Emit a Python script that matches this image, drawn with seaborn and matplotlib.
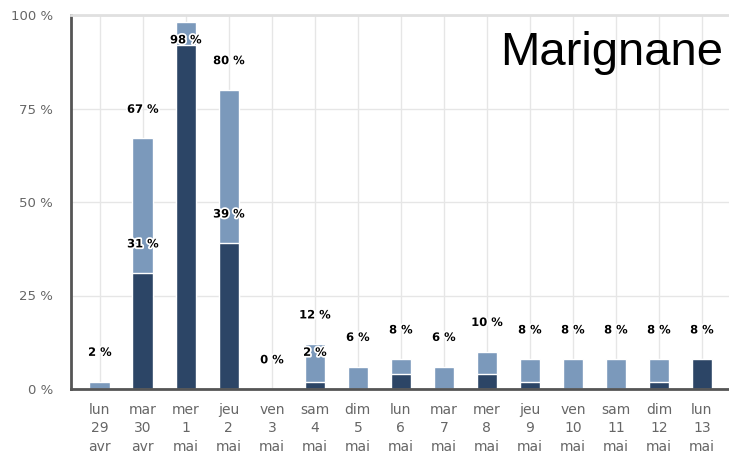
import pandas as pd
import seaborn as sns
import matplotlib.pyplot as plt
import matplotlib.patheffects as pe

# Données du graphique (en %)
jours = ['lun\n29\navr', 'mar\n30\navr', 'mer\n1\nmai', 'jeu\n2\nmai', 'ven\n3\nmai',
         'sam\n4\nmai', 'dim\n5\nmai', 'lun\n6\nmai', 'mar\n7\nmai', 'mer\n8\nmai',
         'jeu\n9\nmai', 'ven\n10\nmai', 'sam\n11\nmai', 'dim\n12\nmai', 'lun\n13\nmai']
total = [2, 67, 98, 80, 0, 12, 6, 8, 6, 10, 8, 8, 8, 8, 8]
fonce = [0, 31, 92, 39, 0, 2, 0, 4, 0, 4, 2, 0, 0, 2, 8]
# étiquettes affichées sur la partie foncée
etiquettes_fonce = ['', '31 %', '', '39 %', '', '2 %', '', '', '', '', '', '', '', '', '']
y_ticks = [0, 25, 50, 75, 100]

df = pd.DataFrame({'jour': jours, 'total': total, 'fonce': fonce})

sns.set_style('white')
plt.rcParams['font.family'] = ['DejaVu Sans']

fig = plt.figure(figsize=(7.29, 4.54), dpi=100)
ax = fig.add_axes([71 / 729, 65 / 454, 658 / 729, 374 / 454])

sns.barplot(data=df, x='jour', y='total', color='#7b99bb', saturation=1,
            width=0.48, edgecolor='white', linewidth=1, ax=ax)
sns.barplot(data=df, x='jour', y='fonce', color='#2c4566', saturation=1,
            width=0.48, edgecolor='white', linewidth=1, ax=ax)

ax.set_xlim(-0.67, 14.63)
ax.set_ylim(0, 100)
ax.set_yticks(y_ticks)
ax.set_yticklabels([f'{v} %' for v in y_ticks])
ax.set_xlabel('')
ax.set_ylabel('')

ax.grid(True, color='#e6e6e6', linewidth=1)
ax.set_axisbelow(True)

ax.tick_params(axis='x', length=7, width=1, color='#c0d0e0', pad=3,
               labelsize=10, labelcolor='#666666')
ax.tick_params(axis='y', length=0, pad=13, labelsize=9.5, labelcolor='#666666')
for lab in ax.get_xticklabels():
    lab.set_linespacing(1.4)

for side in ['left', 'bottom']:
    ax.spines[side].set_color('#555555')
    ax.spines[side].set_linewidth(2)
ax.spines['top'].set_color('#e0e0e0')
ax.spines['top'].set_linewidth(2)
ax.spines['right'].set_visible(False)

halo = [pe.withStroke(linewidth=2.5, foreground='white')]

# étiquettes des totaux
for i, v in enumerate(total):
    decal = 21 if v < 90 else -12.5
    ax.annotate(f'{v} %', (i, v), xytext=(0, decal), textcoords='offset points',
                ha='center', va='center', fontsize=8.3, fontweight='bold',
                color='black', path_effects=halo, zorder=5)

# étiquettes de la partie foncée
for i, txt in enumerate(etiquettes_fonce):
    if txt:
        ax.annotate(txt, (i, fonce[i]), xytext=(0, 21), textcoords='offset points',
                    ha='center', va='center', fontsize=8.3, fontweight='bold',
                    color='black', path_effects=halo, zorder=5)

fig.text(723 / 729, 389 / 454, 'Marignane', ha='right', va='baseline',
         fontsize=34, family='Liberation Sans', color='black')

plt.savefig('out.png', dpi=100)
